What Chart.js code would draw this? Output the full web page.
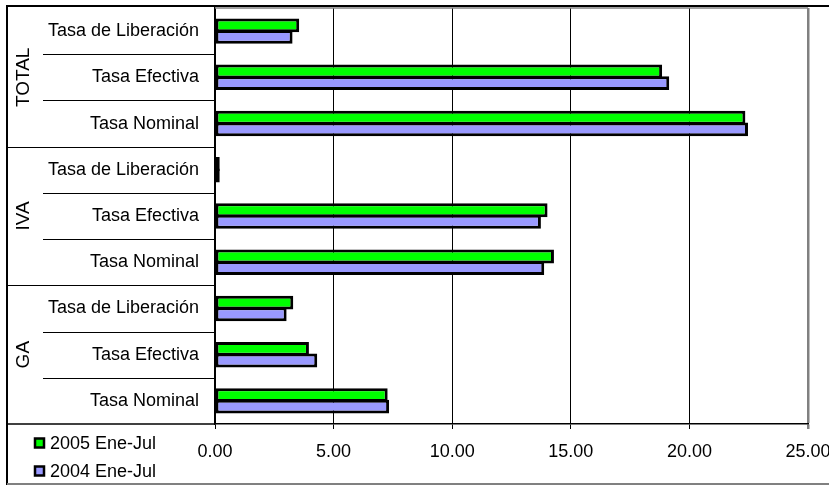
<!DOCTYPE html>
<html>
<head>
<meta charset="utf-8">
<script src="https://cdn.jsdelivr.net/npm/chart.js@4/dist/chart.umd.min.js"></script>
<style>
html,body{margin:0;padding:0;background:#fff;}
#wrap{width:829px;height:485px;}
</style>
</head>
<body>
<div id="wrap"><canvas id="c" width="829" height="485"></canvas></div>
<script>
const categories = ['Tasa de Liberación','Tasa Efectiva','Tasa Nominal',
                    'Tasa de Liberación','Tasa Efectiva','Tasa Nominal',
                    'Tasa de Liberación','Tasa Efectiva','Tasa Nominal'];
const groups = ['TOTAL','IVA','GA'];
const seriesNames = ['2005 Ene-Jul','2004 Ene-Jul'];
const values2005 = [3.55, 18.85, 22.36, 0.20, 14.02, 14.29, 3.30, 3.96, 7.28];
const values2004 = [3.27, 19.15, 22.47, 0.20, 13.74, 13.88, 3.02, 4.31, 7.34];
const xMin = 0, xMax = 25, xStep = 5;

const FONT = '"Liberation Sans", Arial, sans-serif';

const tablePlugin = {
  id: 'tablePlugin',
  afterDraw(chart) {
    const ctx = chart.ctx;
    const ys = chart.scales.y;
    const ca = chart.chartArea;
    const half = (ys.getPixelForValue(1) - ys.getPixelForValue(0)) / 2;
    const frameX = 7;
    ctx.save();
    // outer frame
    ctx.strokeStyle = '#000';
    ctx.lineWidth = 2;
    ctx.beginPath();
    ctx.moveTo(frameX, 485); ctx.lineTo(frameX, 6); ctx.lineTo(829, 6);
    ctx.stroke();
    ctx.strokeStyle = '#808080';
    ctx.lineWidth = 2;
    ctx.beginPath();
    ctx.moveTo(frameX, 484); ctx.lineTo(829, 484);
    ctx.stroke();
    // plot top border gray
    ctx.strokeStyle = '#808080';
    ctx.lineWidth = 1.5;
    ctx.beginPath();
    ctx.moveTo(ca.left, ca.top); ctx.lineTo(ca.right, ca.top);
    ctx.stroke();
    // separators
    ctx.strokeStyle = '#000';
    ctx.lineWidth = 1;
    for (let i = 1; i < categories.length; i++) {
      const y = Math.round(ys.getPixelForValue(i) - half) + 0.5;
      ctx.beginPath();
      ctx.moveTo(i % 3 === 0 ? frameX : 43, y);
      ctx.lineTo(ca.left, y);
      ctx.stroke();
    }
    ctx.lineWidth = 1.5;
    ctx.beginPath();
    ctx.moveTo(frameX, ca.bottom); ctx.lineTo(ca.left, ca.bottom);
    ctx.stroke();
    // group labels
    ctx.fillStyle = '#000';
    ctx.font = '19px ' + FONT;
    ctx.textAlign = 'center';
    ctx.textBaseline = 'middle';
    groups.forEach((g, gi) => {
      const yc = ys.getPixelForValue(gi * 3 + 1);
      ctx.save();
      ctx.translate(24, yc);
      ctx.rotate(-Math.PI / 2);
      ctx.fillText(g, 0, 0);
      ctx.restore();
    });
    // legend
    const ds = chart.data.datasets;
    const rows = [443, 471];
    ctx.font = '18px ' + FONT;
    ctx.textAlign = 'left';
    ds.forEach((d, i) => {
      const cy = rows[i];
      ctx.fillStyle = d.backgroundColor;
      ctx.fillRect(35, cy - 4.5, 9, 9);
      ctx.strokeStyle = '#000';
      ctx.lineWidth = 2.5;
      ctx.strokeRect(35, cy - 4.5, 9, 9);
      ctx.fillStyle = '#000';
      ctx.fillText(d.label, 50, cy + 1);
    });
    ctx.restore();
  }
};

new Chart(document.getElementById('c'), {
  type: 'bar',
  data: {
    labels: categories,
    datasets: [
      { label: seriesNames[0], data: values2005, backgroundColor: '#00FF00', borderColor: '#000', borderWidth: 3, borderSkipped: false },
      { label: seriesNames[1], data: values2004, backgroundColor: '#9999FF', borderColor: '#000', borderWidth: 3, borderSkipped: false }
    ]
  },
  options: {
    indexAxis: 'y',
    responsive: false,
    animation: false,
    datasets: { bar: { barPercentage: 1.2, categoryPercentage: 0.5 } },
    layout: { padding: { top: 8, right: 21, left: 0, bottom: 0 } },
    plugins: { legend: { display: false }, tooltip: { enabled: false } },
    scales: {
      x: {
        type: 'linear',
        min: xMin, max: xMax,
        afterFit(s) { s.height = 61; s.paddingLeft = 0; s.paddingRight = 0; },
        ticks: {
          stepSize: xStep,
          color: '#000',
          font: { family: FONT, size: 18 },
          padding: 12,
          maxRotation: 0,
          callback: v => Number(v).toFixed(2)
        },
        grid: {
          color: c => (c.tick && c.tick.value === xMax) ? '#808080' : '#000',
          lineWidth: c => (c.tick && c.tick.value === xMax) ? 2.5 : 1,
          tickLength: 5,
          drawTicks: true
        },
        border: { display: true, color: '#000', width: 1.5 }
      },
      y: {
        afterFit(s) { s.width = 215; s.paddingTop = 0; s.paddingBottom = 0; },
        ticks: {
          color: '#000',
          font: { family: FONT, size: 18 },
          padding: 16,
          autoSkip: false
        },
        grid: { display: false, drawTicks: false },
        border: { display: true, color: '#000', width: 1.5 }
      }
    }
  },
  plugins: [tablePlugin]
});
</script>
</body>
</html>
